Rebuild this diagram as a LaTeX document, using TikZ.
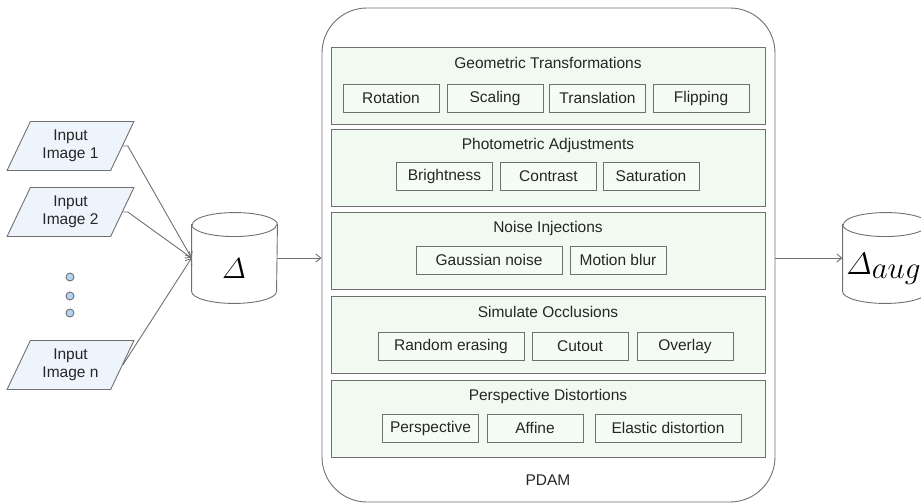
\RequirePackage{fix-cm}
\documentclass[tikz,border=0pt]{standalone}
\usepackage{amsmath}
\usepackage{fontspec}
\setmainfont{Liberation Sans}
\usetikzlibrary{shapes.geometric}
\usetikzlibrary{arrows.meta}

\definecolor{linegray}{HTML}{707070}
\definecolor{groupfill}{HTML}{F0FAF0}
\definecolor{itemfill}{HTML}{F5FBF5}
\definecolor{inputfill}{HTML}{EEF4FC}
\definecolor{dotfill}{HTML}{B5D3F3}

\tikzset{
  txt/.style={font=\fontsize{15.5}{18}\selectfont, text=black!85},
  inputbox/.style={txt, draw=linegray, fill=inputfill, trapezium, trapezium left angle=63,
    trapezium right angle=117, trapezium stretches=true, minimum width=127, minimum height=49,
    align=center, inner sep=0pt},
  dbase/.style={minimum width=85, minimum height=90, inner sep=0pt},
  cyl/.style={draw=linegray, fill=white},
  group/.style={draw=linegray, fill=groupfill, minimum width=434, minimum height=77, inner sep=0pt},
  item/.style={txt, draw=linegray, fill=itemfill, minimum width=96, minimum height=28, inner sep=0pt},
  wideitem/.style={item, minimum width=146},
  arr/.style={draw=linegray, -{Straight Barb[length=5pt,width=8pt]}}
}

% cylinder outline round a node of width 85
\newcommand{\cylof}[1]{%
  \draw[cyl] ([yshift=-12pt]#1.north west) -- ([yshift=12pt]#1.south west)
    arc[start angle=180, end angle=360, x radius=42.5pt, y radius=12pt]
    -- ([yshift=-12pt]#1.north east)
    arc[start angle=0, end angle=180, x radius=42.5pt, y radius=12pt] -- cycle;
  \draw[cyl, fill=none] ([yshift=-12pt]#1.north west)
    arc[start angle=180, end angle=360, x radius=42.5pt, y radius=12pt];
}

\begin{document}
\begin{tikzpicture}[x=1pt, y=-1pt, line width=0.9pt]
  \useasboundingbox (0,0) rectangle (921,503);

  % inputs
  \node[inputbox] (in1) at (70.5,146) {Input\\Image 1};
  \node[inputbox] (in2) at (70.5,212) {Input\\Image 2};
  \node[inputbox] (inn) at (70.5,365) {Input\\Image n};
  \foreach \y/\n in {277/1, 296/2, 313/3}
    \node[circle, draw=linegray, fill=dotfill, minimum size=8, inner sep=0pt] (dot\n) at (70,\y) {};

  % dataset
  \node[dbase] (db) at (234.5,258) {};
  \cylof{db}
  \node[font=\fontsize{29}{32}\selectfont] (dblabel) at (234,269) {$\varDelta$};

  % module
  \node[draw=linegray, rounded corners=45, minimum width=453, minimum height=494, inner sep=0pt] (pdam) at (548.5,255) {};
  \node[txt] (pdamlabel) at (548,480) {PDAM};
  \foreach \t/\n/\lab in {47/geo/Geometric Transformations, 129/photo/Photometric Adjustments,
      212/noise/Noise Injections, 296/occl/Simulate Occlusions, 380/persp/Perspective Distortions} {
    \node[group] (\n) at (548,\t+38.5) {};
    \node[txt] (\n title) at (548,\t+16) {\lab};
  }

  \node[item] (rot) at (391,98) {Rotation};
  \node[item] (scale) at (495,98) {Scaling};
  \node[item] (trans) at (597.5,98) {Translation};
  \node[item] (flip) at (701,98) {Flipping};

  \node[item] (bright) at (444.5,176) {Brightness};
  \node[item] (contr) at (548.5,176) {Contrast};
  \node[item] (satur) at (651,176) {Saturation};

  \node[wideitem] (gauss) at (489,260) {Gaussian noise};
  \node[item] (blur) at (618,260) {Motion blur};

  \node[wideitem] (erase) at (451,346) {Random erasing};
  \node[item] (cutout) at (580,346) {Cutout};
  \node[item] (overlay) at (685,346) {Overlay};

  \node[item] (perspitem) at (430.5,428) {Perspective};
  \node[item] (affine) at (535,428) {Affine};
  \node[wideitem] (elastic) at (668,428) {Elastic distortion};

  % augmented dataset
  \node[dbase] (aug) at (885.5,258) {};
  \cylof{aug}
  \node[font=\fontsize{31}{34}\selectfont, anchor=base west, inner sep=0pt] (auglabel) at (846,274) {$\varDelta_{\textstyle aug}$};

  % connectors
  \draw[arr] (in1.east) -- ++(5,0) -- (db.west);
  \draw[arr] (in2.east) -- ++(5,0) -- (db.west);
  \draw[arr] (inn.east) -- (db.west);
  \draw[arr] (db.east) -- (db.east -| pdam.west);
  \draw[arr] (aug.west -| pdam.east) -- (aug.west);
\end{tikzpicture}
\end{document}
